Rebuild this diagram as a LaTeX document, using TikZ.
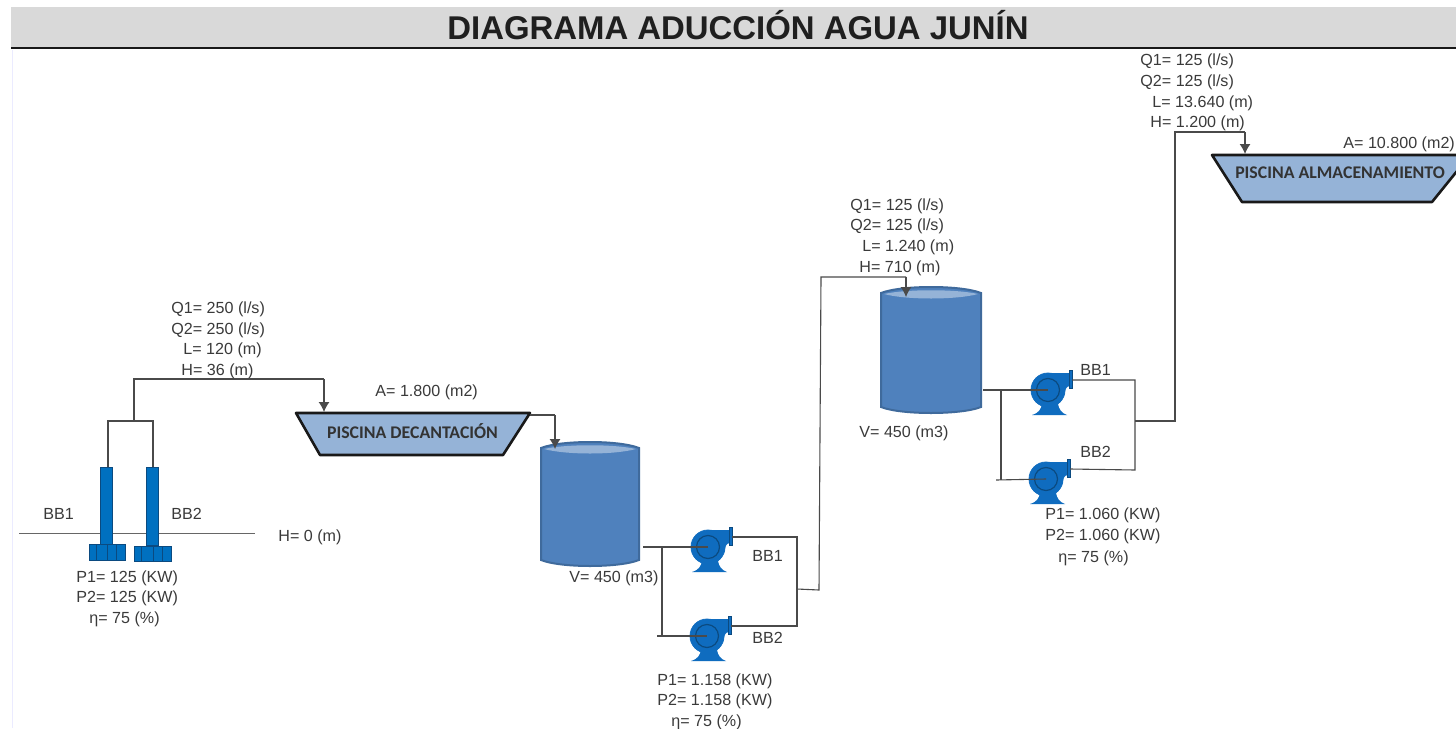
\documentclass[tikz,border=0pt]{standalone}
\usepackage{fontspec}
\setmainfont{Liberation Sans}
\newfontfamily\carl{Carlito}
\usetikzlibrary{arrows.meta}
\definecolor{pumpblue}{HTML}{0F6CBF}
\definecolor{pumpdark}{HTML}{0B4A80}
\definecolor{wellblue}{HTML}{0070C0}
\definecolor{tankblue}{HTML}{4F81BD}
\definecolor{tankedge}{HTML}{3F6A9C}
\definecolor{pale}{HTML}{95B3D7}
\definecolor{pipe}{HTML}{4A4A4A}
\definecolor{txt}{HTML}{3A3A3A}
\tikzset{
  pipeline/.style={draw=pipe,line width=0.55pt,line join=miter},
  arrowline/.style={pipeline,-{Latex[length=5pt,width=5.5pt]}},
  lbl/.style={font=\fontsize{8.05pt}{9pt}\selectfont,text=txt,inner sep=0pt,anchor=base west},
  poolname/.style={font=\carl\bfseries\fontsize{8.9pt}{10pt}\selectfont,text=black!80,inner sep=0pt},
  pool/.style={draw=black!90,line width=1.3pt,fill=pale,line join=round},
  pumpbody/.style={circle,fill=pumpblue,draw=pumpblue,minimum size=17pt,inner sep=0pt},
  pumpfill/.style={fill=pumpblue,draw=none},
  pumpring/.style={circle,draw=pumpdark,line width=0.6pt,minimum size=11.5pt,inner sep=0pt},
  flange/.style={fill=pumpblue,draw=pumpdark,line width=0.25pt},
  wellshaft/.style={fill=wellblue,draw=pumpdark,line width=0.3pt},
  wellbase/.style={fill=wellblue,draw=pumpdark,line width=0.3pt},
  tankbody/.style={fill=tankblue,draw=tankedge,line width=1pt}
}
% label: name, left x, vertical centre y of capitals, text
\newcommand{\lblat}[4]{\node[lbl] (#1) at (#2,#3+5.5) {#4};}
% pump: name, centre x, centre y
\newcommand{\pumpat}[3]{%
  \fill[pumpfill] (#2-16,#3+25) .. controls (#2-9,#3+23) and (#2-7,#3+19) .. (#2-6,#3+14)
     -- (#2+10,#3+14) .. controls (#2+11,#3+19) and (#2+13,#3+23) .. (#2+19,#3+25) -- cycle;
  \fill[pumpfill] (#2,#3-17) -- (#2+22,#3-17) -- (#2+22,#3-4) .. controls (#2+18,#3-4) and (#2+17,#3) .. (#2+16,#3+6) -- cycle;
  \node[pumpbody] (#1) at (#2,#3) {};
  \node[pumpring] (#1ring) at (#2,#3) {};
  \draw[flange] (#2+21,#3-20) rectangle (#2+24,#3-2);
  \coordinate (#1out) at (#2+24,#3-10);
}
% tank: name, left, right, top, bottom
\newcommand{\tankat}[5]{%
  \path[tankbody] (#2,#4+5) .. controls (#2+20,#4-3) and (#3-20,#4-3) .. (#3,#4+5)
     -- (#3,#5-5) .. controls (#3-20,#5+3) and (#2+20,#5+3) .. (#2,#5-5) -- cycle;
  \fill[pale] (#2+3,#4+6) .. controls (#2+25,#4+1) and (#3-25,#4+1) .. (#3-3,#4+6)
     .. controls (#3-25,#4+12) and (#2+25,#4+12) .. (#2+3,#4+6) -- cycle;
  \coordinate (#1) at ({(#2+#3)/2},{(#4+#5)/2});
}
\begin{document}
\begin{tikzpicture}[x=0.5pt,y=-0.5pt]
\useasboundingbox (0,0) rectangle (1456,728);
\fill[white] (0,0) rectangle (1456,728);
% header
\fill[black!15] (11,7) rectangle (1456,47);
\draw[black!90,line width=1pt] (11,48) -- (1456,48);
\draw[blue!8,line width=0.5pt] (12,50) -- (12,728);
\node[font=\bfseries\fontsize{16.45pt}{18pt}\selectfont,text=black!88,inner sep=0pt] (title) at (738,25.5) {DIAGRAMA ADUCCIÓN AGUA JUNÍN};

% ground line
\coordinate (gl) at (19,533); \coordinate (gr) at (255,533);
\draw[draw=black!60,line width=0.5pt] (gl) -- (gr);

% well pumps
\node[wellshaft,rectangle,minimum width=6pt,minimum height=39pt,inner sep=0pt] (w1) at (106,506) {};
\node[wellshaft,rectangle,minimum width=6pt,minimum height=39pt,inner sep=0pt] (w2) at (152.5,506) {};
\draw[wellbase] (89,544) rectangle (125,560);
\draw[wellbase] (134,546) rectangle (171,561);
\foreach \x in {96,107,116} \draw[pumpdark,line width=0.4pt] (\x,544) -- (\x,560);
\foreach \x in {141,153,162} \draw[pumpdark,line width=0.4pt] (\x,546) -- (\x,561);

% pools
\draw[pool] (296,413) -- (530,413) -- (503,455) -- (320,455) -- cycle;
\node[poolname] (decant) at (412.5,431) {PISCINA DECANTACIÓN};
\draw[pool] (1212,155) -- (1470,155) -- (1432,202) -- (1242,202) -- cycle;
\node[poolname] (almac) at (1340,173) {PISCINA ALMACENAMIENTO};

% tanks
\tankat{t1}{541}{639}{443}{565}
\tankat{t2}{881}{981}{288}{412}

% centrifugal pumps
\pumpat{p1}{708}{547}
\pumpat{p2}{707}{636}
\pumpat{p3}{1048}{390}
\pumpat{p4}{1046}{479}

% named joints
\coordinate (wj1) at (108,421); \coordinate (wj2) at (153,421);
\coordinate (wj) at (134,421); \coordinate (wt) at (134,379);
\coordinate (dIn) at (324,379); \coordinate (dTop) at (324,412);
\coordinate (dOut) at (530,415); \coordinate (t1a) at (555,415); \coordinate (t1Top) at (555,449);
\coordinate (t1Out) at (643,547); \coordinate (s1) at (662,547); \coordinate (s1b) at (662,636); \coordinate (s1c) at (657,636);
\coordinate (c1a) at (797,537); \coordinate (c1b) at (797,626); \coordinate (c1j) at (797,589);
\coordinate (r1) at (819,590); \coordinate (r1t) at (821,277); \coordinate (t2a) at (906,277); \coordinate (t2Top) at (906,297);
\coordinate (t2Out) at (983,390); \coordinate (s2) at (1001,390); \coordinate (s2b) at (1001,480); \coordinate (s2c) at (996,480);
\coordinate (c2a) at (1135,380); \coordinate (c2b) at (1135,470); \coordinate (c2j) at (1135,421);
\coordinate (r2) at (1175,421); \coordinate (r2t) at (1175,132); \coordinate (aIn) at (1245,132); \coordinate (aTop) at (1245,154);

% connectors
\draw[pipeline] (w1.north -| wj1) -- (wj1) -- (wj2) -- (w2.north -| wj2);
\draw[pipeline] (wj) -- (wt) -- (dIn);
\draw[arrowline] (dIn) -- (dTop);
\draw[pipeline] (dOut) -- (t1a);
\draw[arrowline] (t1a) -- (t1Top);
\draw[pipeline] (t1Out) -- (p1.center);
\draw[pipeline] (s1) -- (s1b);
\draw[pipeline] (s1c) -- (p2.center);
\draw[pipeline] (p1out) -- (c1a) -- (c1b) -- (p2out);
\draw[pipeline] (c1j) -- (r1) -- (r1t) -- (t2a);
\draw[arrowline] (t2a) -- (t2Top);
\draw[pipeline] (t2Out) -- (p3.center);
\draw[pipeline] (s2) -- (s2b);
\draw[pipeline] (s2c) -- (p4.center);
\draw[pipeline] (p3out) -- (c2a) -- (c2b) -- (p4out);
\draw[pipeline] (c2j) -- (r2) -- (r2t) -- (aIn);
\draw[arrowline] (aIn) -- (aTop);

% labels: wells
\lblat{a1}{171}{308}{Q1= 250 (l/s)}
\lblat{a2}{171}{329}{Q2= 250 (l/s)}
\lblat{a3}{183}{349}{L= 120 (m)}
\lblat{a4}{181}{370}{H= 36 (m)}
\lblat{a5}{375}{391}{A= 1.800 (m2)}
\lblat{a6}{43}{514}{BB1}
\lblat{a7}{171}{514}{BB2}
\lblat{a8}{278}{536}{H= 0 (m)}
\lblat{a9}{76}{577}{P1= 125 (KW)}
\lblat{a10}{76}{597}{P2= 125 (KW)}
\lblat{a11}{89}{618}{η= 75 (\%)}
% labels: first pump station
\lblat{b1}{569}{577}{V= 450 (m3)}
\lblat{b2}{752}{556}{BB1}
\lblat{b3}{752}{638}{BB2}
\lblat{b4}{657}{680}{P1= 1.158 (KW)}
\lblat{b5}{657}{700}{P2= 1.158 (KW)}
\lblat{b6}{671}{721}{η= 75 (\%)}
% labels: second pump station
\lblat{c1}{850}{205}{Q1= 125 (l/s)}
\lblat{c2}{850}{225}{Q2= 125 (l/s)}
\lblat{c3}{862}{246}{L= 1.240 (m)}
\lblat{c4}{859}{267}{H= 710 (m)}
\lblat{c5}{859}{432}{V= 450 (m3)}
\lblat{c6}{1080}{370}{BB1}
\lblat{c7}{1080}{452}{BB2}
\lblat{c8}{1045}{514}{P1= 1.060 (KW)}
\lblat{c9}{1045}{535}{P2= 1.060 (KW)}
\lblat{c10}{1058}{557}{η= 75 (\%)}
% labels: storage
\lblat{d1}{1140}{60}{Q1= 125 (l/s)}
\lblat{d2}{1140}{81}{Q2= 125 (l/s)}
\lblat{d3}{1152}{102}{L= 13.640 (m)}
\lblat{d4}{1150}{122}{H= 1.200 (m)}
\lblat{d5}{1343}{143}{A= 10.800 (m2)}
\end{tikzpicture}
\end{document}
